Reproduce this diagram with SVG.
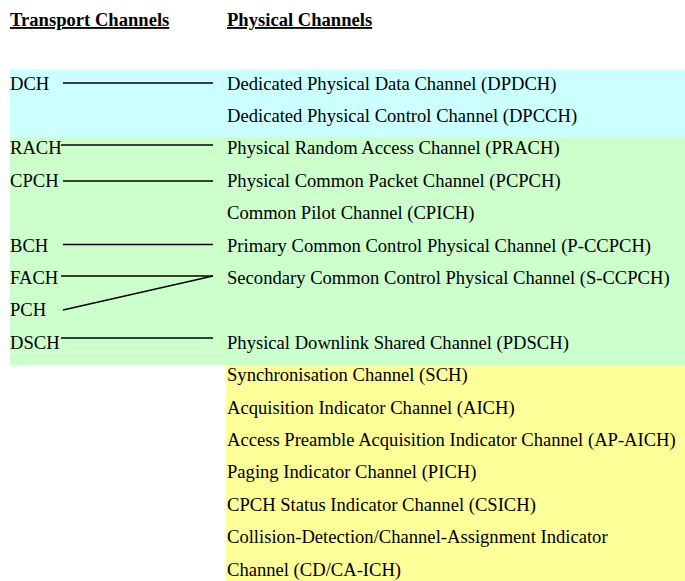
<svg xmlns="http://www.w3.org/2000/svg" width="685" height="581" viewBox="0 0 685 581">
  <style>
    text { font-family: "Liberation Serif", "Times New Roman", serif; font-size: 18.6px; fill: #000; }
    .hdr { font-weight: bold; text-decoration: underline; }
    .link { stroke: #000; stroke-width: 1.3; fill: none; }
  </style>

  <!-- background bands -->
  <g id="bands">
    <rect x="10" y="69" width="675" height="68" fill="#CCFFFF"/>
    <rect x="10" y="137" width="675" height="228" fill="#CCFFCC"/>
    <rect x="226" y="365" width="459" height="216" fill="#FFFF99"/>
  </g>

  <!-- column headings -->
  <g id="headings">
    <text class="hdr" x="10" y="26">Transport Channels</text>
    <text class="hdr" x="227" y="26">Physical Channels</text>
  </g>

  <!-- transport channels -->
  <g id="t-dch"><text x="10" y="89.5">DCH</text></g>
  <g id="t-rach"><text x="10" y="154.3">RACH</text></g>
  <g id="t-cpch"><text x="10" y="186.7">CPCH</text></g>
  <g id="t-bch"><text x="10" y="251.5">BCH</text></g>
  <g id="t-fach"><text x="10" y="283.9">FACH</text></g>
  <g id="t-pch"><text x="10" y="316.3">PCH</text></g>
  <g id="t-dsch"><text x="10" y="348.7">DSCH</text></g>

  <!-- physical channels -->
  <g id="p-dpdch"><text x="227" y="89.5">Dedicated Physical Data Channel (DPDCH)</text></g>
  <g id="p-dpcch"><text x="227" y="121.9">Dedicated Physical Control Channel (DPCCH)</text></g>
  <g id="p-prach"><text x="227" y="154.3">Physical Random Access Channel (PRACH)</text></g>
  <g id="p-pcpch"><text x="227" y="186.7">Physical Common Packet Channel (PCPCH)</text></g>
  <g id="p-cpich"><text x="227" y="219.1">Common Pilot Channel (CPICH)</text></g>
  <g id="p-pccpch"><text x="227" y="251.5">Primary Common Control Physical Channel (P-CCPCH)</text></g>
  <g id="p-sccpch"><text x="227" y="283.9">Secondary Common Control Physical Channel (S-CCPCH)</text></g>
  <g id="p-pdsch"><text x="227" y="348.7">Physical Downlink Shared Channel (PDSCH)</text></g>
  <g id="p-sch"><text x="227" y="381.1">Synchronisation Channel (SCH)</text></g>
  <g id="p-aich"><text x="227" y="413.5">Acquisition Indicator Channel (AICH)</text></g>
  <g id="p-apaich"><text x="227" y="445.9">Access Preamble Acquisition Indicator Channel (AP-AICH)</text></g>
  <g id="p-pich"><text x="227" y="478.3">Paging Indicator Channel (PICH)</text></g>
  <g id="p-csich"><text x="227" y="510.7">CPCH Status Indicator Channel (CSICH)</text></g>
  <g id="p-cdcaich">
    <text x="227" y="543.1">Collision-Detection/Channel-Assignment Indicator</text>
    <text x="227" y="575.5">Channel (CD/CA-ICH)</text>
  </g>

  <!-- mappings -->
  <g id="connectors">
    <line class="link" x1="63" y1="83" x2="213" y2="83"/>
    <line class="link" x1="61" y1="145" x2="213" y2="145"/>
    <line class="link" x1="63" y1="181" x2="213" y2="181"/>
    <line class="link" x1="63" y1="244.5" x2="213" y2="244.5"/>
    <line class="link" x1="61" y1="276" x2="213" y2="276"/>
    <line class="link" x1="63" y1="310" x2="213" y2="276"/>
    <line class="link" x1="61" y1="338" x2="213" y2="338"/>
  </g>
</svg>
